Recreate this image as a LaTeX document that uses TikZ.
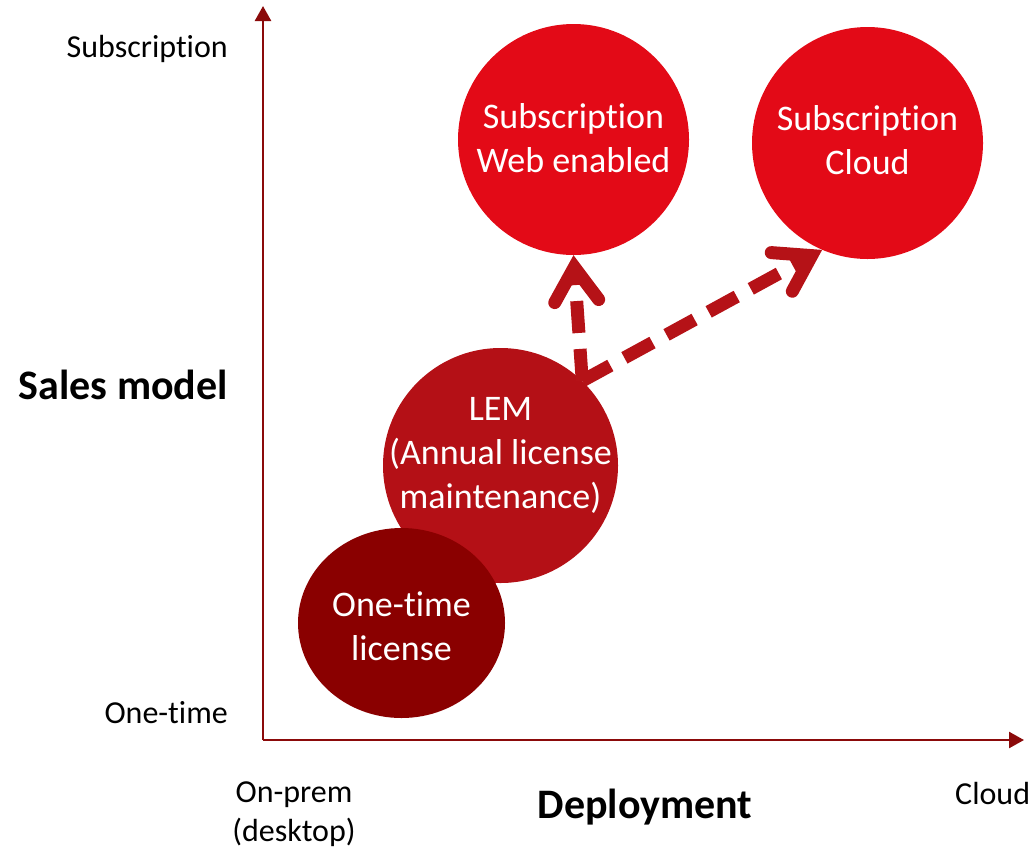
\documentclass[tikz,border=0pt]{standalone}
\usepackage{fontspec}
\setmainfont{Carlito}[Ligatures=NoCommon]
\usetikzlibrary{arrows.meta,shapes.geometric}
\definecolor{brightred}{HTML}{E30A17}
\definecolor{midred}{HTML}{B41016}
\definecolor{darkred}{HTML}{8A0000}
\definecolor{axisred}{HTML}{8B0A0A}
\definecolor{arrowred}{HTML}{B51217}
\tikzset{
  bubble/.style={ellipse, inner sep=0pt},
  bubbletext/.style={inner sep=0pt, text=white, align=center,
    font=\fontsize{36}{44}\selectfont},
  axislabel/.style={inner sep=0pt, align=center, font=\fontsize{32}{39}\selectfont},
  axistitle/.style={inner sep=0pt, font=\fontsize{42}{50}\selectfont\bfseries},
  axisline/.style={draw=axisred, line width=2.5pt, -{Triangle[length=15pt,width=16pt]}},
  migrate/.style={draw=arrowred, line width=13pt, dash pattern=on 32pt off 16pt,
    -{Straight Barb[length=34pt,width=44pt,line cap=round,line join=miter]}}
}
\begin{document}
\begin{tikzpicture}[x=1pt,y=1pt]
\useasboundingbox (0,0) rectangle (1035,-849);
% axes
\coordinate (O) at (263,-740);
\coordinate (ytop) at (263,-6);
\coordinate (xend) at (1024,-740);
\draw[axisline] (O) -- (ytop);
\draw[axisline] (O) -- (xend);
% bubbles
\node[bubble, fill=brightred, minimum width=231pt, minimum height=231pt,
  label={[bubbletext, yshift=1pt]center:Subscription\\Web enabled}] (web) at (573.5,-139.5) {};
\node[bubble, fill=brightred, minimum width=231pt, minimum height=232pt,
  label={[bubbletext, yshift=3pt]center:Subscription\\Cloud}] (cloud) at (867.5,-143) {};
\node[bubble, fill=midred, minimum width=235pt, minimum height=235pt,
  label={[bubbletext, yshift=10pt]center:LEM\\(Annual license\\maintenance)}] (lem) at (500.5,-465.5) {};
\node[bubble, fill=darkred, minimum width=207pt, minimum height=190pt,
  label={[bubbletext, yshift=-3pt]center:One-time\\license}] (one) at (401.5,-623) {};
% migration arrows
\draw[migrate] (lem.46) -- (web.south);
\draw[migrate] (lem.46) -- (cloud.247);
% axis labels
\node[axislabel, anchor=east] (ysub) at (228,-49) {Subscription};
\node[axislabel, anchor=east] (yone) at (228,-713) {One-time};
\node[axistitle, anchor=east] (ytitle) at (228,-385) {Sales model};
\node[axislabel] (xprem) at (294,-814) {On-prem\\(desktop)};
\node[axistitle] (xtitle) at (645,-807) {Deployment};
\node[axislabel, anchor=west] (xcloud) at (955,-793) {Cloud};
\end{tikzpicture}
\end{document}
